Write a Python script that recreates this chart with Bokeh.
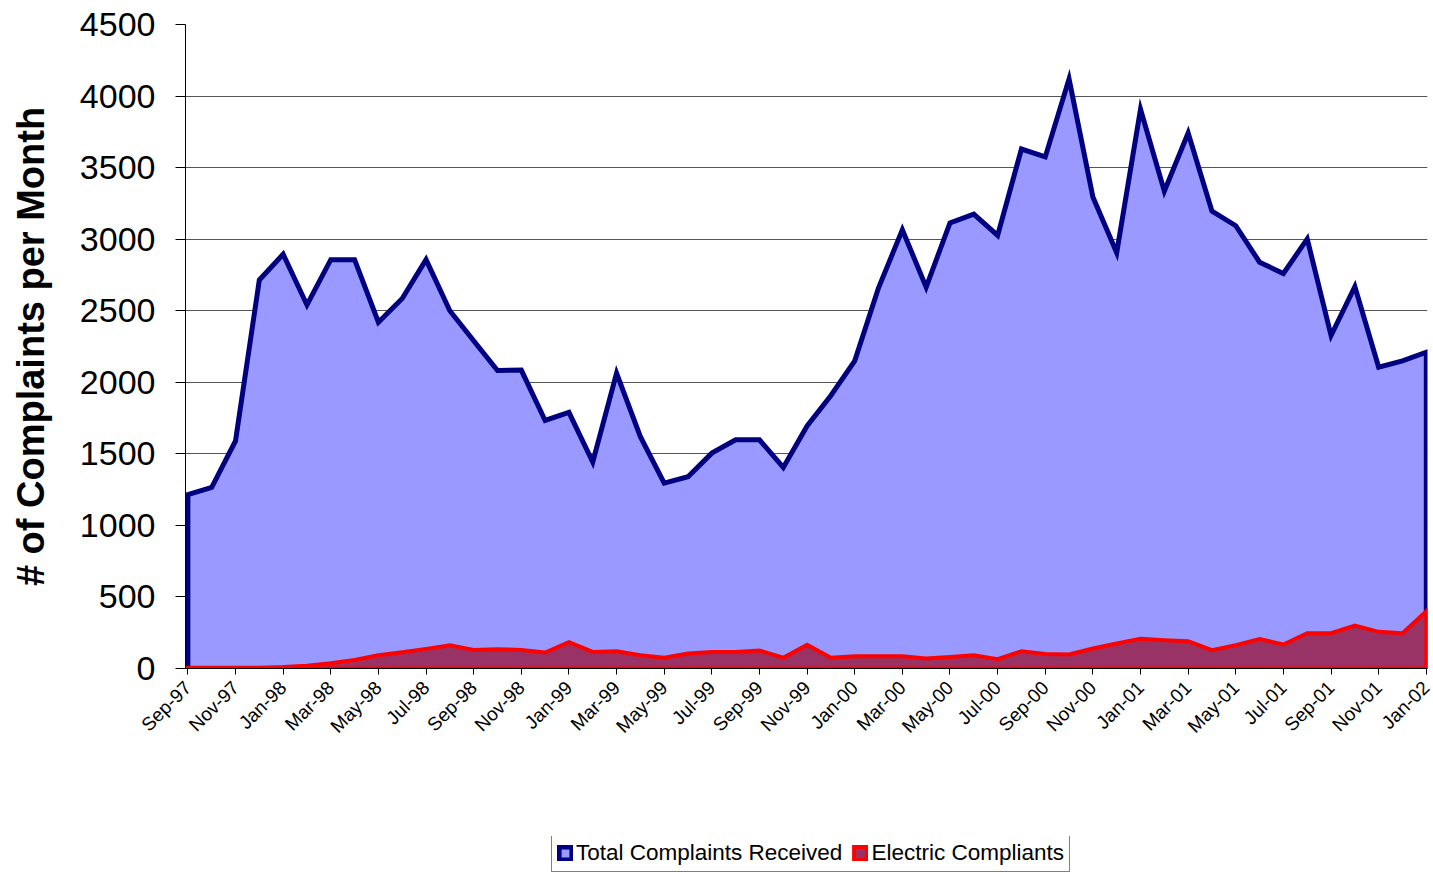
import math
from bokeh.plotting import figure
from bokeh.layouts import column
from bokeh.models import Range1d, FixedTicker, Legend, LegendItem
from bokeh.embed import file_html
from bokeh.resources import INLINE

months = ["Sep-97", "Oct-97", "Nov-97", "Dec-97",
          "Jan-98", "Feb-98", "Mar-98", "Apr-98", "May-98", "Jun-98",
          "Jul-98", "Aug-98", "Sep-98", "Oct-98", "Nov-98", "Dec-98",
          "Jan-99", "Feb-99", "Mar-99", "Apr-99", "May-99", "Jun-99",
          "Jul-99", "Aug-99", "Sep-99", "Oct-99", "Nov-99", "Dec-99",
          "Jan-00", "Feb-00", "Mar-00", "Apr-00", "May-00", "Jun-00",
          "Jul-00", "Aug-00", "Sep-00", "Oct-00", "Nov-00", "Dec-00",
          "Jan-01", "Feb-01", "Mar-01", "Apr-01", "May-01", "Jun-01",
          "Jul-01", "Aug-01", "Sep-01", "Oct-01", "Nov-01", "Dec-01",
          "Jan-02"]

total = [1215, 1265, 1590, 2715, 2895, 2540, 2857, 2857, 2420, 2585,
         2857, 2500, 2290, 2082, 2085, 1733, 1790, 1442, 2064, 1620,
         1295, 1340, 1505, 1598, 1598, 1405, 1695, 1908, 2150, 2660,
         3065, 2665, 3114, 3175, 3026, 3630, 3575, 4120, 3295, 2905,
         3908, 3335, 3742, 3196, 3094, 2839, 2760, 3002, 2327, 2669,
         2105, 2150, 2210]

electric = [5, 5, 5, 5, 10, 20, 37, 60, 93, 114,
            137, 163, 130, 135, 130, 112, 184, 116, 121, 93,
            75, 105, 116, 116, 126, 75, 165, 75, 86, 86,
            86, 70, 81, 93, 65, 121, 102, 98, 140, 175,
            207, 198, 191, 128, 163, 205, 168, 247, 247, 300,
            256, 247, 400]

y_ticks = [0, 500, 1000, 1500, 2000, 2500, 3000, 3500, 4000, 4500]

series_names = ["Total Complaints Received", "Electric Compliants"]

FONT = "Liberation Sans"
TOTAL_STYLE = dict(fill_color="#9999FF", line_color="#000080", line_width=5, line_join="miter")
ELEC_STYLE = dict(fill_color="#993366", line_color="#FF0000", line_width=4, line_join="miter")

x = list(range(len(months)))
xs = x + x[::-1]
zeros = [0] * len(x)

p = figure(width=1433, height=836, output_backend="svg", toolbar_location=None,
           x_range=Range1d(-0.1, len(months) - 1 + 0.05),
           y_range=Range1d(0, 4500),
           min_border_left=185, min_border_right=6,
           min_border_top=24, min_border_bottom=168)
p.outline_line_color = None
p.background_fill_color = "white"

p.patch(xs, total + zeros[::-1], **TOTAL_STYLE)
p.patch(xs, electric + zeros[::-1], **ELEC_STYLE)

# x axis
p.xaxis.ticker = FixedTicker(ticks=x[::2])
p.xaxis.major_label_overrides = {i: months[i] for i in x[::2]}
p.xaxis.major_label_orientation = math.pi / 4
p.xaxis.major_tick_out = 6
p.xaxis.major_tick_in = 0
p.xaxis.minor_tick_line_color = None
p.xaxis.axis_line_color = "black"
p.xaxis.major_tick_line_color = "black"
p.xaxis.major_label_text_font = FONT
p.xaxis.major_label_text_font_size = "19px"
p.xaxis.major_label_text_color = "black"
p.xaxis.major_label_standoff = 10

# y axis
p.yaxis.ticker = FixedTicker(ticks=y_ticks)
p.yaxis.major_tick_out = 10
p.yaxis.major_tick_in = 0
p.yaxis.minor_tick_line_color = None
p.yaxis.axis_line_color = "black"
p.yaxis.major_tick_line_color = "black"
p.yaxis.major_label_text_font = FONT
p.yaxis.major_label_text_font_size = "34px"
p.yaxis.major_label_text_color = "black"
p.yaxis.major_label_standoff = 20
p.yaxis.axis_label = "# of Complaints per Month"
p.yaxis.axis_label_text_font = FONT
p.yaxis.axis_label_text_font_style = "bold"
p.yaxis.axis_label_text_font_size = "38px"
p.yaxis.axis_label_text_color = "black"
p.yaxis.axis_label_standoff = 25

p.xgrid.visible = False
p.ygrid.grid_line_color = "#555555"
p.ygrid.grid_line_width = 1

# legend strip under the chart
pl = figure(width=1433, height=36, output_backend="svg", toolbar_location=None,
            x_range=Range1d(0, 1), y_range=Range1d(0, 1),
            x_axis_location=None, y_axis_location=None,
            min_border=0, min_border_left=0, min_border_right=0,
            min_border_top=0, min_border_bottom=0)
pl.outline_line_color = None
pl.xgrid.visible = False
pl.ygrid.visible = False
l1 = pl.patch(xs, total + zeros[::-1], visible=False, **TOTAL_STYLE)
l2 = pl.patch(xs, electric + zeros[::-1], visible=False, **ELEC_STYLE)

legend = Legend(items=[LegendItem(label=series_names[0], renderers=[l1]),
                       LegendItem(label=series_names[1], renderers=[l2])],
                orientation="horizontal", location=(366, 0))
legend.border_line_color = "black"
legend.border_line_width = 1
legend.background_fill_color = "white"
legend.background_fill_alpha = 1
legend.inactive_fill_alpha = 0
legend.padding = 5
legend.spacing = 10
legend.margin = 0
legend.label_standoff = 3
legend.glyph_width = 16
legend.glyph_height = 16
legend.label_height = 22
legend.label_text_font = FONT
legend.label_text_font_size = "22.5px"
legend.label_text_color = "black"
legend.click_policy = "none"
pl.add_layout(legend, "center")

layout = column(p, pl, spacing=0)
open("out.html", "w").write(file_html(layout, INLINE))
